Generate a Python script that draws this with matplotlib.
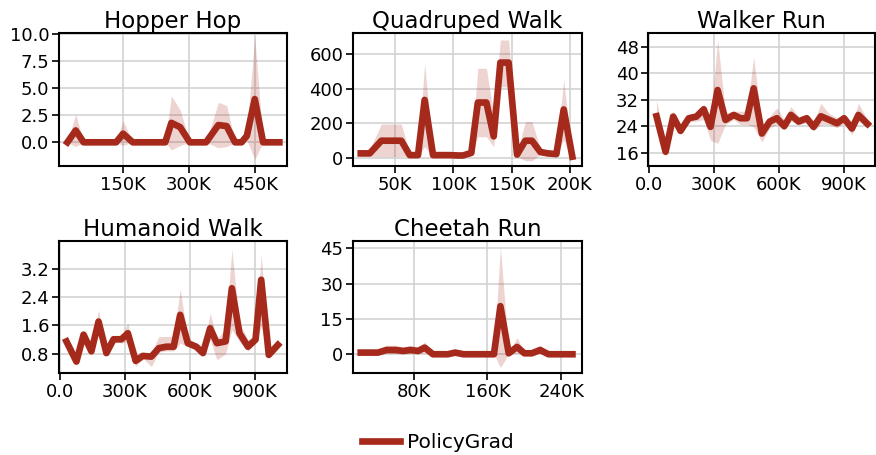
import numpy as np
import matplotlib.pyplot as plt
from matplotlib.ticker import FuncFormatter

# color de la curva
rojo = "#a62a1c"

# Hopper Hop
hop_x = [23, 42, 60, 79, 97, 116, 134, 150, 172, 190, 209, 227, 246, 260, 280, 302, 320, 339, 367, 386, 405, 420, 432, 450, 469, 488, 506]
hop_y = [0, 1.1, 0, 0, 0, 0, 0, 0.8, 0, 0, 0, 0, 0, 1.8, 1.4, 0, 0, 0, 1.6, 1.5, 0, 0, 0.6, 4.0, 0, 0, 0]
hop_lo = [0, -0.4, 0, 0, 0, 0, 0, -0.3, 0, 0, 0, 0, 0, -0.7, -0.3, 0, 0, 0, -0.5, -0.4, 0, 0, 0.2, -1.6, 0, 0, 0]
hop_hi = [0, 2.6, 0, 0, 0, 0, 0, 2.0, 0, 0, 0, 0, 0.1, 4.3, 3.0, 0, 0, 0, 3.7, 3.4, 0, 0, 1.0, 9.8, 0, 0, 0]

# Quadruped Walk
quad_x = [20.6, 28.3, 38.3, 45.4, 50.6, 55.4, 62.6, 69.7, 75.4, 82.6, 89.7, 96.9, 104, 108.3, 115.4, 121, 128.3, 134.6, 140.3, 147.4, 154.6, 161.7, 167.4, 174.6, 181, 188.3, 194.6, 202]
quad_y = [27, 27, 100, 100, 100, 100, 17, 17, 335, 17, 17, 17, 15, 15, 30, 320, 320, 125, 550, 550, 20, 100, 100, 35, 27, 23, 280, 8]
quad_lo = [10, 10, 8, 8, 8, 10, 10, 10, 65, 10, 10, 10, 10, 10, 20, 123, 123, 65, 410, 410, 10, -15, -15, 20, 15, 15, 104, 0]
quad_hi = [50, 50, 196, 196, 196, 196, 25, 25, 546, 25, 25, 25, 20, 20, 45, 517, 517, 250, 680, 680, 30, 210, 210, 50, 40, 35, 450, 15]

# Walker Run
walk_x = [35, 77, 112, 146, 184, 219, 253, 284, 317, 353, 391, 422, 452, 483, 521, 557, 590, 624, 655, 690, 728, 759, 793, 828, 867, 900, 936, 966, 1008]
walk_y = [27, 16.3, 26.9, 22.6, 26.4, 26.9, 29.1, 23.8, 34.9, 25.9, 27.4, 26.4, 26.4, 35.4, 21.8, 25.4, 26.4, 24, 27.4, 25.4, 26.4, 23.8, 27, 26, 24.9, 26.4, 23.3, 27.4, 24.7]
walk_lo = [25.4, 14.8, 25, 21.5, 25.5, 25.5, 26, 19.8, 18.8, 24.5, 26, 24.5, 24.5, 23.8, 19.3, 23.5, 24.5, 23, 25.5, 24.5, 25, 22.5, 24.5, 24.5, 23.5, 25, 21.5, 25.5, 23.5]
walk_hi = [31.9, 18.8, 28.5, 24, 27.5, 28, 30.5, 26, 50, 28, 28.5, 28.5, 28.5, 45, 24, 27, 29.5, 26, 29.9, 27, 27.5, 25, 30.9, 28, 26.5, 27.5, 25, 30.9, 26]

# Humanoid Walk
hum_x = [31, 77, 110, 146, 179, 215, 248, 284, 314, 350, 383, 422, 457, 491, 525, 555, 590, 629, 660, 693, 724, 764, 793, 828, 867, 902, 928, 963, 1005]
hum_y = [1.15, 0.58, 1.34, 0.87, 1.71, 0.82, 1.21, 1.21, 1.38, 0.6, 0.74, 0.72, 0.96, 1.0, 1.0, 1.9, 1.1, 1.0, 0.82, 1.52, 1.1, 1.15, 2.65, 1.38, 1.0, 1.2, 2.89, 0.77, 1.05]
hum_lo = [1.05, 0.5, 1.25, 0.8, 1.4, 0.75, 1.15, 1.1, 1.15, 0.44, 0.68, 0.44, 0.85, 0.88, 0.88, 1.1, 1.0, 0.95, 0.75, 1.2, 0.63, 0.8, 1.48, 1.15, 0.87, 1.1, 1.57, 0.66, 0.95]
hum_hi = [1.25, 0.66, 1.45, 0.95, 2.04, 0.9, 1.3, 1.3, 1.67, 0.7, 0.8, 0.85, 1.29, 1.29, 1.29, 2.63, 1.2, 1.1, 0.9, 1.95, 1.2, 1.52, 3.75, 1.67, 1.2, 1.3, 3.6, 0.85, 1.2]

# Cheetah Run
chee_x = [22.7, 32.5, 41.5, 50.5, 60.6, 68.6, 76.5, 84.8, 92, 101, 110, 117, 125, 134, 143, 152, 161, 167, 174, 183, 192, 200, 208, 217, 226, 235, 244, 252]
chee_y = [0.7, 0.7, 0.7, 1.8, 1.8, 1.4, 1.8, 1.4, 2.8, 0, 0, 0, 0.7, 0, 0, 0, 0, 0, 20.4, 0.4, 3.1, 0.4, 0.4, 1.8, 0, 0, 0, 0]
chee_lo = [0, 0, 0, 0.3, 0.3, 0.2, 0.3, 0.2, 0.5, 0, 0, 0, 0, 0, 0, 0, 0, 0, -5.6, 0, 0.5, 0, 0, 0.3, 0, 0, 0, 0]
chee_hi = [1.5, 1.5, 1.8, 3.8, 3.8, 3.0, 3.8, 3.0, 5.2, 0.5, 0.5, 0.5, 1.2, 0.3, 0.3, 0.3, 0.3, 0.3, 45.7, 1.0, 7.0, 1.0, 1.0, 3.9, 0.3, 0.3, 0.3, 0.3]

paneles = [
    ("Hopper Hop", hop_x, hop_y, hop_lo, hop_hi, [0.0674, 0.635, 0.260, 0.292], (4, 523), (-2.2, 10.1), [150, 300, 450], [0, 2.5, 5.0, 7.5, 10.0], "{:.1f}"),
    ("Quadruped Walk", quad_x, quad_y, quad_lo, quad_hi, [0.403, 0.635, 0.261, 0.292], (14, 210), (-46, 719), [50, 100, 150, 200], [0, 200, 400, 600], "{:.0f}"),
    ("Walker Run", walk_x, walk_y, walk_lo, walk_hi, [0.740, 0.635, 0.259, 0.292], (-3, 1043), (12, 52), [0, 300, 600, 900], [16, 24, 32, 40, 48], "{:.0f}"),
    ("Humanoid Walk", hum_x, hum_y, hum_lo, hum_hi, [0.0674, 0.180, 0.260, 0.290], (-3, 1046), (0.255, 3.98), [0, 300, 600, 900], [0.8, 1.6, 2.4, 3.2], "{:.1f}"),
    ("Cheetah Run", chee_x, chee_y, chee_lo, chee_hi, [0.403, 0.180, 0.261, 0.290], (14.4, 262), (-8, 48), [80, 160, 240], [0, 15, 30, 45], "{:.0f}"),
]

def fmt_k(v, pos):
    if v == 0:
        return "0.0"
    return "{:d}K".format(int(round(v)))

fig = plt.figure(figsize=(8.76, 4.55), dpi=100)
for titulo, x, y, lo, hi, pos, xl, yl, xt, yt, yf in paneles:
    ax = fig.add_axes(pos)
    ax.fill_between(x, lo, hi, color=rojo, alpha=0.2, linewidth=0)
    linea, = ax.plot(x, y, color=rojo, linewidth=4.8, label="PolicyGrad")
    ax.set_xlim(*xl)
    ax.set_ylim(*yl)
    ax.set_xticks(xt)
    ax.set_yticks(yt)
    ax.xaxis.set_major_formatter(FuncFormatter(fmt_k))
    ax.yaxis.set_major_formatter(FuncFormatter(lambda v, p, f=yf: f.format(v)))
    ax.set_title(titulo, fontsize=16.5, pad=4)
    ax.tick_params(labelsize=13, length=5, width=1.2, pad=2)
    ax.grid(True, color="#d3d3d3", linewidth=1.2)
    ax.set_axisbelow(True)
    for s in ax.spines.values():
        s.set_linewidth(1.5)

fig.legend([linea], ["PolicyGrad"], loc="center", bbox_to_anchor=(0.5, 0.028), frameon=False,
           fontsize=14.5, handlelength=1.85, handletextpad=0.35)
fig.savefig("out.png", dpi=100)
